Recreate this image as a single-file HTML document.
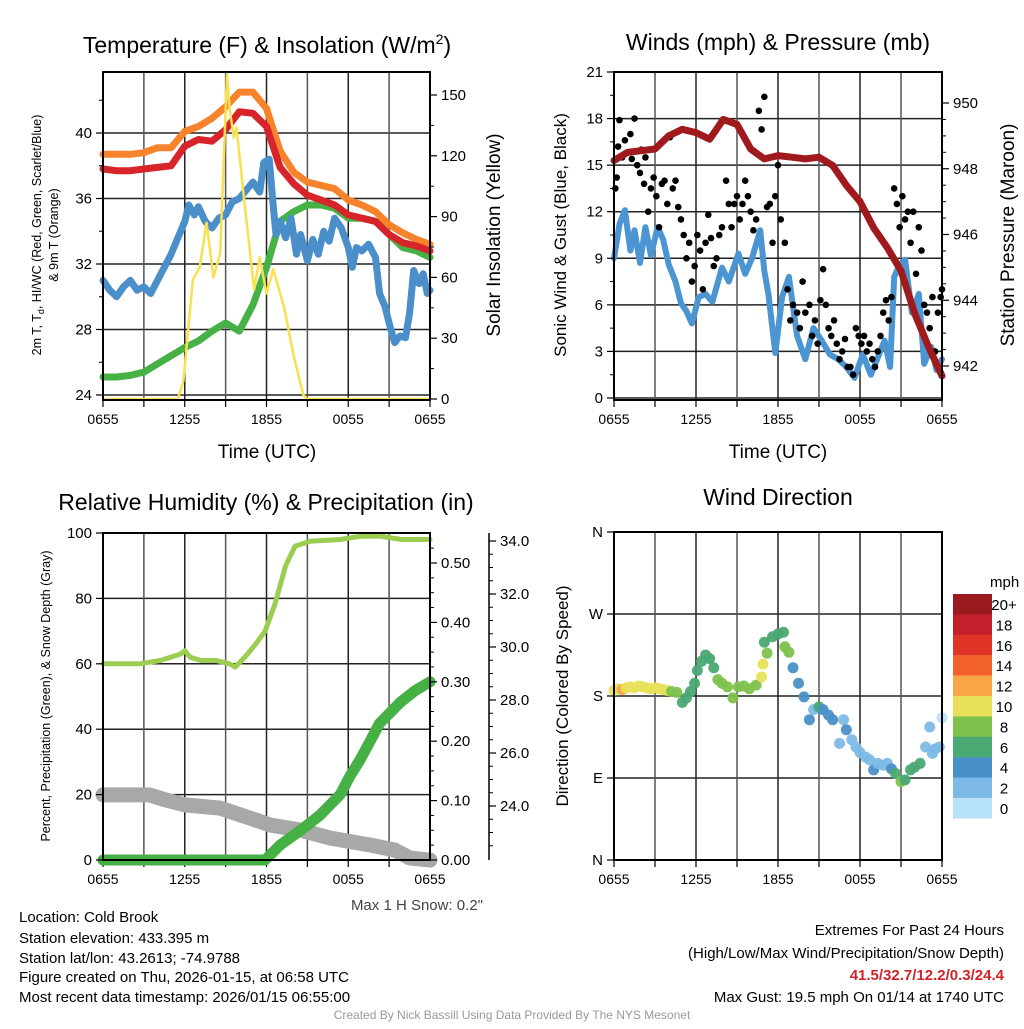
<!DOCTYPE html>
<html><head><meta charset="utf-8"><style>
html,body{margin:0;padding:0;background:#fff;}
svg text{font-family:"Liberation Sans",Arial,sans-serif;fill:#000;}
</style></head><body>
<svg id="c" width="1024" height="1024" viewBox="0 0 1024 1024" xmlns="http://www.w3.org/2000/svg">
<rect width="1024" height="1024" fill="#fff"/>
<text x="267" y="53" font-size="23" text-anchor="middle">Temperature (F) &amp; Insolation (W/m<tspan dy="-9" font-size="14">2</tspan><tspan dy="9">)</tspan></text>
<text x="778" y="50" font-size="23" text-anchor="middle">Winds (mph) &amp; Pressure (mb)</text>
<text x="266" y="510" font-size="23" text-anchor="middle">Relative Humidity (%) &amp; Precipitation (in)</text>
<text x="778" y="505" font-size="23" text-anchor="middle">Wind Direction</text>
<text x="267" y="458" font-size="19" text-anchor="middle">Time (UTC)</text>
<text x="778" y="458" font-size="19" text-anchor="middle">Time (UTC)</text>
<text transform="translate(41,235) rotate(-90)" font-size="12.5" text-anchor="middle">2m T, T<tspan dy="3" font-size="9">d</tspan><tspan dy="-3">, HI/WC (Red, Green, Scarlet/Blue)</tspan></text>
<text transform="translate(58,235) rotate(-90)" font-size="12.5" text-anchor="middle">&amp; 9m T (Orange)</text>
<text transform="translate(500,235) rotate(-90)" font-size="19" text-anchor="middle">Solar Insolation (Yellow)</text>
<text transform="translate(566,235) rotate(-90)" font-size="17" text-anchor="middle">Sonic Wind &amp; Gust (Blue, Black)</text>
<text transform="translate(1014,235) rotate(-90)" font-size="19" text-anchor="middle">Station Pressure (Maroon)</text>
<text transform="translate(50,696) rotate(-90)" font-size="12.5" text-anchor="middle">Percent, Precipitation (Green), &amp; Snow Depth (Gray)</text>
<text transform="translate(568,696) rotate(-90)" font-size="17" text-anchor="middle">Direction (Colored By Speed)</text>
<text x="483" y="910" font-size="15" fill="#444" style="fill:#444" text-anchor="end">Max 1 H Snow: 0.2"</text>
<g font-size="15">
<text x="19" y="922">Location: Cold Brook</text>
<text x="19" y="943">Station elevation: 433.395 m</text>
<text x="19" y="963">Station lat/lon: 43.2613; -74.9788</text>
<text x="19" y="982">Figure created on Thu, 2026-01-15, at 06:58 UTC</text>
<text x="19" y="1002">Most recent data timestamp: 2026/01/15 06:55:00</text>
</g>
<g font-size="15" text-anchor="end">
<text x="1004" y="935">Extremes For Past 24 Hours</text>
<text x="1004" y="958">(High/Low/Max Wind/Precipitation/Snow Depth)</text>
<text x="1004" y="980" font-weight="bold" style="fill:#d0232a">41.5/32.7/12.2/0.3/24.4</text>
<text x="1004" y="1002">Max Gust: 19.5 mph On 01/14 at 1740 UTC</text>
</g>
<text x="512" y="1019" font-size="12" text-anchor="middle" style="fill:#999">Created By Nick Bassill Using Data Provided By The NYS Mesonet</text>
</svg>
<script>
// ---- Panel 1 data ----
const hours = [0,1,2,3,4,5,6,7,8,9,10,11,12,13,14,15,16,17,18,19,20,21,22,23,24];
const xTickLabels = ["0655","1255","1855","0055","0655"];
const tempRed = [37.8,37.7,37.7,37.8,37.9,38.0,39.2,39.6,39.5,40.2,41.3,41.2,40.4,37.9,36.9,36.2,35.9,35.6,35.0,34.8,34.6,33.8,33.3,33.1,32.8];
const tempOrange = [38.7,38.7,38.7,38.8,39.1,39.1,40.1,40.4,40.9,41.6,42.5,42.5,41.5,38.9,37.6,37.0,36.8,36.6,35.9,35.6,35.2,34.4,33.9,33.5,33.2];
const dewGreen = [25.1,25.1,25.2,25.4,25.9,26.4,26.9,27.3,27.9,28.4,27.9,29.5,31.8,34.6,35.2,35.6,35.6,35.4,34.8,34.8,34.6,33.8,33.0,32.8,32.4];
const blueTimes = [0,0.5,1,1.5,2,2.5,3,3.5,4,4.5,5,5.5,6,6.3,6.7,7,7.5,8,8.5,9,9.5,10,10.5,11,11.5,11.8,12.2,12.5,12.7,13,13.4,13.8,14.2,14.5,15,15.4,15.8,16.2,16.6,17,17.5,18,18.3,18.6,19,19.5,20,20.3,20.7,21,21.4,21.8,22.2,22.5,22.8,23.2,23.5,23.8,24];
const blueT = [31.0,30.4,30.0,30.6,31.0,30.4,30.6,30.2,31.0,31.8,32.6,33.6,34.6,35.6,35.0,35.5,34.6,34.2,34.8,35.0,35.8,36.0,36.5,37.0,36.4,38.2,38.4,35.5,33.8,34.6,33.6,34.8,32.6,33.8,32.2,33.5,32.6,34.0,33.4,34.8,34.2,33.0,31.8,33.0,32.8,33.2,32.4,30.2,29.4,28.4,27.2,27.6,27.5,29.0,31.6,30.8,31.4,30.2,30.4];
const solarTimes = [0,5.5,5.9,6.6,7.1,7.6,8.1,8.6,9.1,9.3,9.6,9.8,10.3,11.1,11.5,12.0,12.5,13.3,14.0,14.7,15,24];
const solarVals = [0,0,9,59,65,87,60,72,160,143,129,134,102,54,70,52,64,45,21,2,0,0];
const tempTicks = [24,28,32,36,40];
const solarTicks = [0,30,60,90,120,150];
// ---- Panel 2 data ----
const pressure = [948.25,948.5,948.55,948.6,949.0,949.2,949.1,948.9,949.5,949.35,948.6,948.3,948.4,948.35,948.3,948.35,948.1,947.5,947.0,946.2,945.6,944.9,943.6,942.6,941.7];
const windTimes = [0,0.4,0.8,1.2,1.5,1.9,2.3,2.7,3.2,3.6,4.0,4.5,4.9,5.3,5.7,6.2,6.7,7.2,7.9,8.4,9.1,9.6,10.1,10.7,11.0,11.3,11.8,12.3,12.8,13.4,14.0,14.6,15.2,15.8,16.4,17.0,17.6,18.2,18.8,19.3,19.8,20.2,20.5,20.9,21.3,21.8,22.3,22.7,23.2,23.6,24];
const windVals = [9,11.2,12.1,9.5,10.8,8.7,11,9.2,11,10.2,8.6,7.5,6.1,5.6,4.8,6.5,6.7,6.2,8.4,7.5,9.3,8.0,9,10.8,8.2,6.7,2.9,6.5,7.8,4,2.5,4.5,3.7,2.8,2.5,2.0,1.3,2.8,1.5,2.6,3.7,2.0,7.8,8.6,8.9,5.5,6.7,2.2,3.3,1.8,2.5];
const gustTimes = [0.1,0.2,0.3,0.4,0.6,0.8,1.0,1.2,1.3,1.5,1.7,1.9,2.0,2.2,2.3,2.5,2.7,2.9,3.1,3.3,3.5,3.7,3.9,4.1,4.3,4.5,4.7,4.9,5.1,5.3,5.5,5.7,5.9,6.1,6.3,6.5,6.7,6.9,7.1,7.3,7.5,7.7,7.9,8.2,8.4,8.6,8.8,9.0,9.2,9.4,9.6,9.8,10.0,10.2,10.4,10.6,10.8,11.0,11.2,11.4,11.6,11.8,12.0,12.2,12.5,12.7,12.9,13.1,13.4,13.6,13.8,14.0,14.3,14.5,14.7,14.9,15.1,15.3,15.5,15.7,15.9,16.1,16.3,16.5,16.7,16.9,17.1,17.3,17.5,17.7,17.9,18.1,18.3,18.5,18.7,18.9,19.1,19.3,19.5,19.7,19.9,20.1,20.3,20.5,20.7,20.9,21.1,21.3,21.5,21.7,21.9,22.1,22.3,22.5,22.7,22.9,23.1,23.3,23.5,23.7,23.9,24];
const gustVals = [13.5,14.2,16.2,17.9,15.5,16.6,15.8,17.0,15.4,18.0,15.0,14.5,16.0,13.8,15.5,12.0,13.5,14.2,13.0,11.0,13.8,14.0,12.5,16.8,13.5,14.0,12.3,11.5,10.5,9.0,10.0,7.5,8.5,10.5,9.5,7.0,10.0,11.8,10.3,8.5,9.0,10.5,11.0,14.0,12.5,11.0,12.5,13.0,11.5,12.5,14.0,13.0,12.0,10.8,11.5,18.5,17.3,19.4,12.3,12.5,10.0,13.0,15.0,11.5,10.0,7.0,5.0,6.0,5.5,4.5,7.5,5.5,6.0,4.0,5.0,3.5,6.3,8.3,6.0,4.5,4.0,5.0,3.5,2.5,3.0,3.8,2.0,2.0,1.5,4.5,4.0,3.5,4.0,3.0,3.5,2.5,2.0,3.0,4.0,5.5,6.3,5.0,6.5,13.5,12.5,11.0,13.0,11.5,12.0,10.0,12.0,8.0,11.0,9.5,6.0,5.5,4.5,6.5,3.0,5.5,6.5,7.0];
const windTicks = [0,3,6,9,12,15,18,21];
const pressTicks = [942,944,946,948,950];
// ---- Panel 3 data ----
const rhTimes = [0,2.7,4.2,5.7,6.0,6.4,7.2,8.3,9.3,9.7,10.4,11.2,11.9,12.6,13.4,14.1,15.2,17.4,18.9,20.4,21.9,24];
const rhVals = [60,60,61,63,64,62,61,61,60,59,62,66,70,78,90,96,97.5,98,99,99,98,98];
const precipTimes = [0,11.9,13.0,14.5,15.9,17.4,18.1,18.9,19.6,20.3,21.8,22.9,24];
const precipVals = [0,0,0.025,0.05,0.075,0.11,0.14,0.17,0.20,0.23,0.265,0.285,0.30];
const snowTimes = [0,3.4,4.6,6.0,8.6,10.1,11.2,12.3,14.5,16.7,19.6,21.4,22.5,24];
const snowVals = [24.42,24.42,24.23,24.04,23.92,23.66,23.47,23.28,23.09,22.79,22.53,22.34,22.04,21.96];
const rhTicks = [0,20,40,60,80,100];
const precipTicks = [0,0.1,0.2,0.3,0.4,0.5];
const snowTicks = [24,26,28,30,32,34];
// ---- Panel 4 data ----
const dirTimes = [0,0.3,0.6,0.9,1.2,1.5,1.8,2.1,2.4,2.7,3.0,3.3,3.6,3.9,4.2,4.6,5.0,5.3,5.6,5.9,6.1,6.4,6.7,7.0,7.3,7.6,7.9,8.3,8.7,9.1,9.5,9.9,10.4,10.8,10.9,11.0,11.2,11.6,12.0,12.4,12.5,12.8,13.1,13.5,13.9,14.3,14.6,15.0,15.3,15.7,16.0,16.5,16.8,17.0,17.4,17.7,18.0,18.4,18.7,19.0,19.3,19.7,20.0,20.3,20.6,21.0,21.3,21.7,22.0,22.4,22.8,23.1,23.3,23.5,23.8,24];
const dirVals = [186,188,187,189,190,189,191,190,189,188,189,188,187,186,185,184,173,178,185,194,208,218,225,221,211,198,194,190,178,190,191,188,192,201,215,239,227,245,248,250,234,228,211,194,179,154,165,168,165,159,154,128,154,143,132,124,118,113,110,99,106,104,106,100,95,86,88,99,102,106,124,146,117,122,124,156];
const dirSpeeds = [10,11,13,10,11,10,11,10,11,10,10,11,10,10,9,9,6,7,7,6,7,6,7,7,7,8,9,8,9,8,9,8,9,10,11,7,8,7,6,6,9,9,5,5,5,4,3,6,5,5,4,3,3,4,3,3,2,3,2,4,3,3,3,5,7,9,7,6,7,6,3,3,3,3,3,1];
const dirTickLabels = ["N","E","S","W","N"];
const speedBins = ["0","2","4","6","8","10","12","14","16","18","20+"];
const speedColors = ["#b8e2f7","#7db9e6","#4a90c8","#4aa872","#7ec24c","#e8e05a","#f9a445","#f26129","#e03428","#c2202a","#9a1a1e"];

const NS = "http://www.w3.org/2000/svg";
const svg = document.getElementById('c');
function mk(tag, attrs, parent) {
  const e = document.createElementNS(NS, tag);
  for (const k in attrs) e.setAttribute(k, attrs[k]);
  (parent || svg).appendChild(e);
  return e;
}
function txt(x, y, s, size, anchor, parent) {
  const t = mk('text', {x: x, y: y, 'font-size': size, 'text-anchor': anchor}, parent);
  t.textContent = s;
  return t;
}
function lin(d0, d1, r0, r1) { return v => r0 + (v - d0) * (r1 - r0) / (d1 - d0); }
function pathFrom(xs, ys, fx, fy) {
  return xs.map((t, i) => (i ? 'L' : 'M') + fx(t).toFixed(1) + ' ' + fy(ys[i]).toFixed(1)).join(' ');
}
function panelFrame(name) {
  const g = mk('g', {});
  
  
  return g;
}
function timeGrid(g, L, T, R, B, fx) {
  for (let h = 0; h <= 24; h += 3) {
    const x = fx(h);
    const ln = mk('line', {x1: x, y1: T, x2: x, y2: B, stroke: (h % 6 === 0) ? '#222' : '#555', 'stroke-width': 1.5}, g);
    
    
    mk('line', {x1: x, y1: B, x2: x, y2: B + 7, stroke: '#000', 'stroke-width': 1.2}, g);
  }
  xTickLabels.forEach((s, i) => {
    const t = txt(fx(i * 6), B + 24, s, 14, 'middle', g);
    
    
  });
}
function hGrid(g, L, R, ys) {
  ys.forEach(y => {
    const ln = mk('line', {x1: L, y1: y, x2: R, y2: y, stroke: '#222', 'stroke-width': 1.5}, g);
    
    
  });
}
function border(g, L, T, R, B) {
  mk('rect', {x: L, y: T, width: R - L, height: B - T, fill: 'none', stroke: '#000', 'stroke-width': 2}, g);
}
function yTicks(g, x, dir, vals, fy, labels, minors, fmt, size) {
  vals.forEach((v, i) => {
    const y = fy(v);
    mk('line', {x1: x, y1: y, x2: x + dir * 7, y2: y, stroke: '#000', 'stroke-width': 1.2}, g);
    const t = txt(x + dir * 11, y + 5, labels ? labels[i] : fmt(v), size || 15, dir < 0 ? 'end' : 'start', g);
    
    
  });
  (minors || []).forEach(v => {
    mk('line', {x1: x, y1: fy(v), x2: x + dir * 4, y2: fy(v), stroke: '#000', 'stroke-width': 1}, g);
  });
}
function series(g, d, color, w, name) {
  const p = mk('path', {d: d, fill: 'none', stroke: color, 'stroke-width': w, 'stroke-linejoin': 'round', 'stroke-linecap': 'round'}, g);
  
  
  return p;
}

// ===== Panel 1 =====
(function(){
  const L = 103, T = 72, R = 430, B = 400;
  const g = panelFrame('temperature-panel');
  const fx = lin(0, 24, L, R);
  const fy = lin(24, 40, 395, 133);
  const fs = lin(0, 150, 399, 95);
  hGrid(g, L, R, tempTicks.map(fy));
  timeGrid(g, L, T, R, B, fx);
  series(g, pathFrom(hours, dewGreen, fx, fy), '#46b145', 7, 'dewpoint-line');
  series(g, pathFrom(blueTimes, blueT, fx, fy), '#4a8fc9', 7, 'windchill-line');
  series(g, pathFrom(hours, tempOrange, fx, fy), '#f7832c', 7, 'temp-9m-line');
  series(g, pathFrom(hours, tempRed, fx, fy), '#d7242a', 7, 'temp-2m-line');
  series(g, pathFrom(solarTimes, solarVals, fx, fs), '#f9e04f', 2.5, 'insolation-line');
  border(g, L, T, R, B);
  yTicks(g, L, -1, tempTicks, fy, null, [26,30,34,38,42], v => String(v), 15);
  yTicks(g, R, 1, solarTicks, fs, null, [15,45,75,105,135], v => String(v), 15);
})();

// ===== Panel 2 =====
(function(){
  const L = 614, T = 72, R = 942, B = 400;
  const g = panelFrame('winds-panel');
  const fx = lin(0, 24, L, R);
  const fy = lin(0, 21, 398, 72);
  const fp = lin(942, 950, 366, 103);
  hGrid(g, L, R, windTicks.map(fy));
  timeGrid(g, L, T, R, B, fx);
  series(g, pathFrom(windTimes, windVals, fx, fy), '#4c95d3', 6, 'sonic-wind-line');
  gustTimes.forEach((t, i) => {
    const c = mk('circle', {cx: fx(t), cy: fy(gustVals[i]), r: 3.3, fill: '#000'}, g);
    
    
  });
  series(g, pathFrom(hours, pressure, fx, fp), '#a0191c', 7, 'pressure-line');
  border(g, L, T, R, B);
  yTicks(g, L, -1, windTicks, fy, null, [1.5,4.5,7.5,10.5,13.5,16.5,19.5], v => String(v), 15);
  yTicks(g, R, 1, pressTicks, fp, null, [942.5,943,943.5,944.5,945,945.5,946.5,947,947.5,948.5,949,949.5], v => String(v), 15);
})();

// ===== Panel 3 =====
(function(){
  const L = 103, T = 533, R = 430, B = 860;
  const g = panelFrame('humidity-panel');
  const fx = lin(0, 24, L, R);
  const fy = lin(0, 100, 860, 533);
  const fpr = lin(0, 0.5, 860, 563);
  const fsn = lin(24, 34, 806, 541);
  hGrid(g, L, R, rhTicks.map(fy));
  timeGrid(g, L, T, R, B, fx);
  series(g, pathFrom(snowTimes, snowVals, fx, fsn), '#a8a8a8', 15, 'snow-depth-line');
  series(g, pathFrom(precipTimes, precipVals, fx, fpr), '#45b044', 11, 'precipitation-line');
  series(g, pathFrom(rhTimes, rhVals, fx, fy), '#9acd50', 5, 'humidity-line');
  border(g, L, T, R, B);
  yTicks(g, L, -1, rhTicks, fy, null, [], v => String(v), 15);
  yTicks(g, R, 1, precipTicks, fpr, null, [0.025,0.05,0.075,0.125,0.15,0.175,0.225,0.25,0.275,0.325,0.35,0.375,0.425,0.45,0.475,0.525], v => v.toFixed(2), 15);
  mk('line', {x1: 489, y1: 533, x2: 489, y2: 860, stroke: '#000', 'stroke-width': 1.5}, g);
  yTicks(g, 489, 1, snowTicks, fsn, null, [22.5,23,23.5,24.5,25,25.5,26.5,27,27.5,28.5,29,29.5,30.5,31,31.5,32.5,33,33.5], v => v.toFixed(1), 15);
})();

// ===== Panel 4 =====
(function(){
  const L = 614, T = 532, R = 942, B = 860;
  const g = panelFrame('wind-direction-panel');
  const fx = lin(0, 24, L, R);
  const fy = lin(0, 360, 860, 532);
  hGrid(g, L, R, [0,90,180,270,360].map(fy));
  timeGrid(g, L, T, R, B, fx);
  function col(s) { let i = Math.min(10, Math.floor(s / 2)); return speedColors[i]; }
  dirTimes.forEach((t, i) => {
    const c = mk('circle', {cx: fx(t), cy: fy(dirVals[i]), r: 5.5, fill: col(dirSpeeds[i]), opacity: 0.95}, g);
    
    
  });
  border(g, L, T, R, B);
  yTicks(g, L, -1, [0,90,180,270,360], fy, dirTickLabels, [], null, 15);
  const cb = mk('g', {});
  
  
  txt(990, 587, 'mph', 15, 'start', cb);
  speedBins.forEach((s, i) => {
    const k = 10 - i;
    const y = 594 + i * 20.4;
    const r = mk('rect', {x: 953, y: y, width: 39, height: 20.6, fill: speedColors[k]}, cb);
    
    
    const lt = txt(1004, y + 16, speedBins[k], 15, 'middle', cb);
    
    
  });
})();
</script>
</body></html>
